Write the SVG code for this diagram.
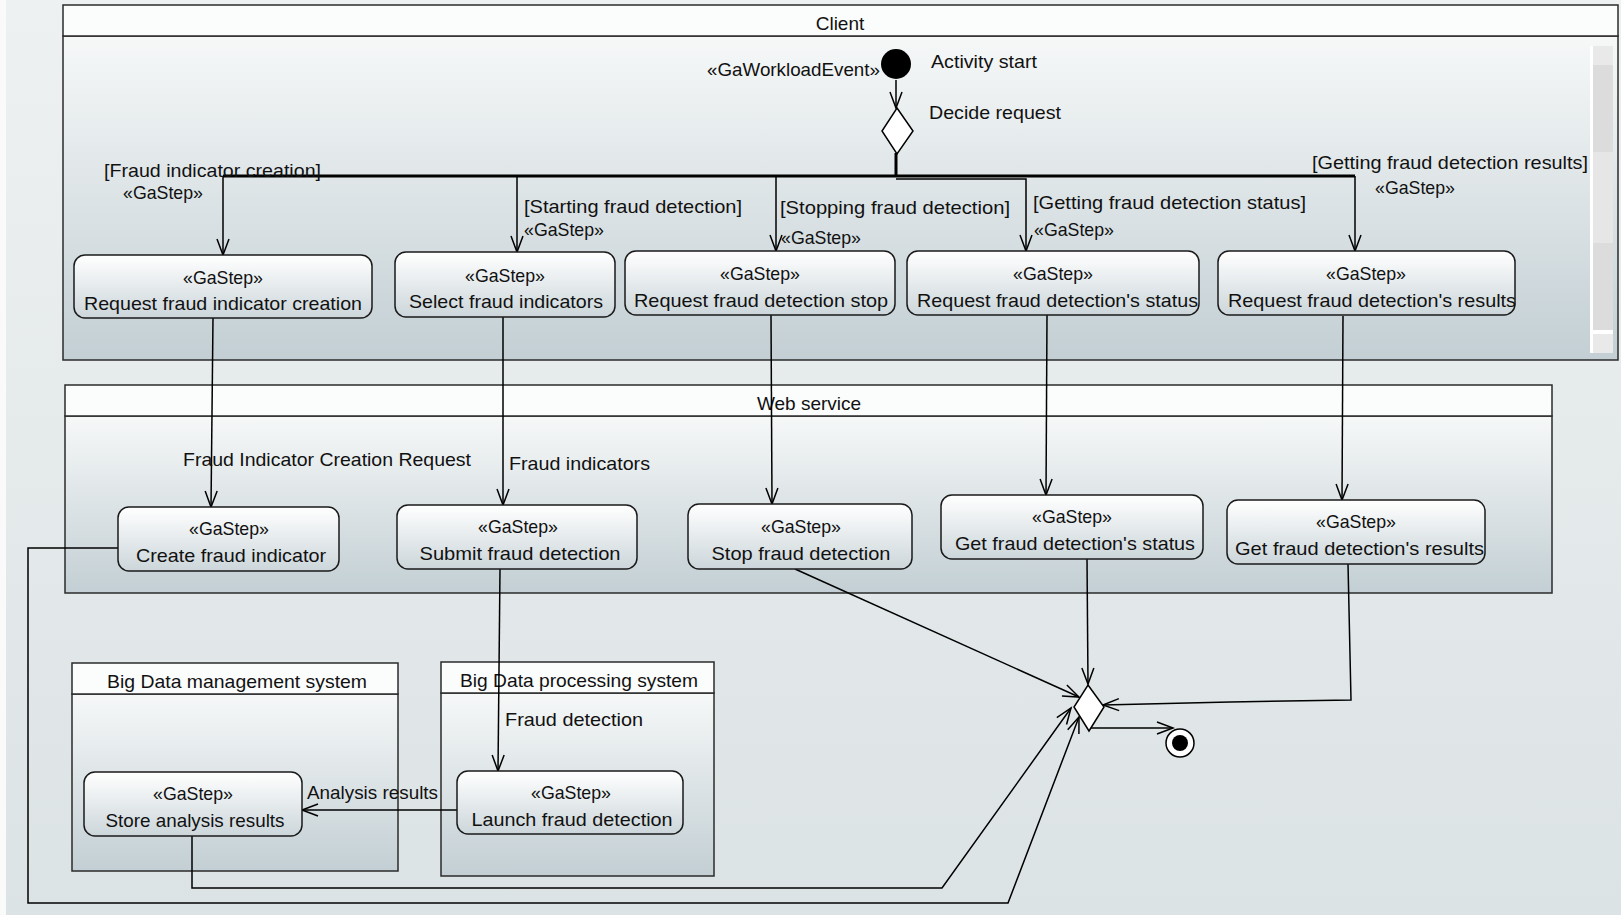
<svg xmlns="http://www.w3.org/2000/svg" width="1621" height="915" viewBox="0 0 1621 915">
  <defs>
    <linearGradient id="page" x1="0" y1="0" x2="0" y2="1">
      <stop offset="0" stop-color="#eef1f1"/>
      <stop offset="1" stop-color="#dce3e5"/>
    </linearGradient>
    <linearGradient id="lane" x1="0" y1="0" x2="0" y2="1">
      <stop offset="0" stop-color="#f6f8f8"/>
      <stop offset="1" stop-color="#c3cfd4"/>
    </linearGradient>
    <linearGradient id="act" x1="0" y1="0" x2="0" y2="1">
      <stop offset="0" stop-color="#ffffff"/>
      <stop offset="1" stop-color="#ccd6da"/>
    </linearGradient>
    <marker id="arr" viewBox="0 0 18 14" markerWidth="18" markerHeight="14" refX="16" refY="7" orient="auto" markerUnits="userSpaceOnUse" overflow="visible">
      <path d="M0,1 L16,7 L0,13" fill="none" stroke="#000" stroke-width="1.5"/>
    </marker>
    <style>
      text { font-family: "Liberation Sans", Arial, sans-serif; font-size: 19px; fill: #111; }
      .c { text-anchor: middle; }
      .lane-hdr { fill: #fbfcfc; stroke: #2b2b2b; stroke-width: 1.5; }
      .lane-body { fill: url(#lane); stroke: #2b2b2b; stroke-width: 1.5; }
      .action { fill: url(#act); stroke: #1a1a1a; stroke-width: 1.5; }
      .flow { fill: none; stroke: #000; stroke-width: 1.5; marker-end: url(#arr); }
      .trunk { fill: none; stroke: #000; stroke-width: 3; }
    </style>
  </defs>

  <!-- canvas -->
  <rect x="0" y="0" width="1621" height="915" fill="url(#page)"/>
  <rect x="0" y="0" width="6" height="915" fill="#fafafa"/>

  <!-- partitions -->
  <g id="lane-client">
    <rect class="lane-body" x="63" y="36" width="1555" height="324"/>
    <rect class="lane-hdr" x="63" y="5" width="1555" height="31"/>
    <text class="c" x="840" y="30">Client</text>
    <!-- scroll bar -->
    <rect x="1590" y="46" width="3" height="307" fill="#ffffff"/>
    <rect x="1593" y="46" width="20" height="19" fill="#e9e9e9"/>
    <rect x="1593" y="65" width="20" height="87" fill="#dcdcdc"/>
    <rect x="1593" y="152" width="20" height="91" fill="#e6e6e6"/>
    <rect x="1593" y="243" width="20" height="87" fill="#dcdcdc"/>
    <rect x="1593" y="330" width="20" height="4" fill="#ffffff"/>
    <rect x="1593" y="334" width="20" height="19" fill="#e9e9e9"/>
  </g>
  <g id="lane-web">
    <rect class="lane-body" x="65" y="416" width="1487" height="177"/>
    <rect class="lane-hdr" x="65" y="385" width="1487" height="31"/>
    <text class="c" x="809" y="410">Web service</text>
  </g>
  <g id="lane-bdm">
    <rect class="lane-body" x="72" y="694" width="326" height="177"/>
    <rect class="lane-hdr" x="72" y="663" width="326" height="31"/>
    <text class="c" x="237" y="688" textLength="260" lengthAdjust="spacingAndGlyphs">Big Data management system</text>
  </g>
  <g id="lane-bdp">
    <rect class="lane-body" x="441" y="693" width="273" height="183"/>
    <rect class="lane-hdr" x="441" y="662" width="273" height="31"/>
    <text class="c" x="579" y="687" textLength="238" lengthAdjust="spacingAndGlyphs">Big Data processing system</text>
  </g>

  <!-- connectors -->
  <g id="connectors">
    <path class="flow" d="M896,80 L896,108"/>
    <path class="trunk" d="M896,153 L896,176"/>
    <path class="trunk" d="M896,176 L223,176" stroke-width="2.5"/>
    <path class="trunk" d="M896,176 L1355,176" stroke-width="2"/>
    <path class="flow" d="M223,176 L223,255"/>
    <path class="flow" d="M517,176 L517,252"/>
    <path class="flow" d="M776,176 L776,251"/>
    <path class="flow" d="M896,179 L1026,179 L1026,251"/>
    <path class="flow" d="M1355,176 L1355,251"/>

    <path class="flow" d="M213,318 L211,507"/>
    <path class="flow" d="M503,317 L503,505"/>
    <path class="flow" d="M771,315 L772,504"/>
    <path class="flow" d="M1047,315 L1046,495"/>
    <path class="flow" d="M1343,316 L1342,500"/>

    <path class="flow" d="M500,569 L498,771"/>
    <path class="flow" d="M457,810 L302,810"/>

    <path class="flow" d="M795,569 L1079,697"/>
    <path class="flow" d="M1087,559 L1088,684"/>
    <path class="flow" d="M1348,564 L1351,700 L1230,702 L1103,705"/>
    <path class="flow" d="M192,836 L192,888 L942,888 L1071,708"/>
    <path class="flow" d="M118,548 L28,548 L28,903 L1008,903 L1079,717"/>
    <path class="flow" d="M1090,728 L1173,728"/>
  </g>

  <!-- guard and object-flow labels -->
  <g id="labels">
    <text x="104" y="177" textLength="217" lengthAdjust="spacingAndGlyphs">[Fraud indicator creation]</text>
    <text x="123" y="199" textLength="80" lengthAdjust="spacingAndGlyphs">«GaStep»</text>
    <text x="524" y="213" textLength="218" lengthAdjust="spacingAndGlyphs">[Starting fraud detection]</text>
    <text x="524" y="236" textLength="80" lengthAdjust="spacingAndGlyphs">«GaStep»</text>
    <text x="780" y="214" textLength="230" lengthAdjust="spacingAndGlyphs">[Stopping fraud detection]</text>
    <text x="781" y="244" textLength="80" lengthAdjust="spacingAndGlyphs">«GaStep»</text>
    <text x="1033" y="209" textLength="273" lengthAdjust="spacingAndGlyphs">[Getting fraud detection status]</text>
    <text x="1034" y="236" textLength="80" lengthAdjust="spacingAndGlyphs">«GaStep»</text>
    <text x="1312" y="169" textLength="276" lengthAdjust="spacingAndGlyphs">[Getting fraud detection results]</text>
    <text x="1375" y="194" textLength="80" lengthAdjust="spacingAndGlyphs">«GaStep»</text>
    <text x="183" y="466" textLength="288" lengthAdjust="spacingAndGlyphs">Fraud Indicator Creation Request</text>
    <text x="509" y="470" textLength="141" lengthAdjust="spacingAndGlyphs">Fraud indicators</text>
    <text x="505" y="726" textLength="138" lengthAdjust="spacingAndGlyphs">Fraud detection</text>
    <text x="307" y="799" textLength="131" lengthAdjust="spacingAndGlyphs">Analysis results</text>
  </g>

  <!-- control nodes -->
  <g id="initial">
    <circle cx="896" cy="64" r="15" fill="#000"/>
    <text x="880" y="76" text-anchor="end" textLength="173" lengthAdjust="spacingAndGlyphs">«GaWorkloadEvent»</text>
    <text x="931" y="68" textLength="106" lengthAdjust="spacingAndGlyphs">Activity start</text>
  </g>
  <g id="decision">
    <path d="M897,108 L913,131 L897,154 L882,131 Z" fill="#fff" stroke="#000" stroke-width="1.5"/>
    <text x="929" y="119" textLength="132" lengthAdjust="spacingAndGlyphs">Decide request</text>
  </g>
  <g id="merge">
    <path d="M1088,685 L1104,707 L1089,731 L1074,707 Z" fill="#fff" stroke="#000" stroke-width="1.5"/>
  </g>
  <g id="final">
    <circle cx="1180" cy="743" r="14" fill="#fff" stroke="#000" stroke-width="1.5"/>
    <circle cx="1180" cy="743" r="8" fill="#000"/>
  </g>

  <!-- client actions -->
  <g id="req-indicator">
    <rect class="action" x="74" y="255" width="298" height="63" rx="11"/>
    <text class="c" x="223" y="284" textLength="80" lengthAdjust="spacingAndGlyphs">«GaStep»</text>
    <text class="c" x="223" y="310" textLength="278" lengthAdjust="spacingAndGlyphs">Request fraud indicator creation</text>
  </g>
  <g id="select-indicators">
    <rect class="action" x="395" y="252" width="220" height="65" rx="11"/>
    <text class="c" x="505" y="282" textLength="80" lengthAdjust="spacingAndGlyphs">«GaStep»</text>
    <text class="c" x="506" y="308" textLength="194" lengthAdjust="spacingAndGlyphs">Select fraud indicators</text>
  </g>
  <g id="req-stop">
    <rect class="action" x="625" y="251" width="270" height="64" rx="11"/>
    <text class="c" x="760" y="280" textLength="80" lengthAdjust="spacingAndGlyphs">«GaStep»</text>
    <text class="c" x="761" y="307" textLength="254" lengthAdjust="spacingAndGlyphs">Request fraud detection stop</text>
  </g>
  <g id="req-status">
    <rect class="action" x="907" y="251" width="292" height="64" rx="11"/>
    <text class="c" x="1053" y="280" textLength="80" lengthAdjust="spacingAndGlyphs">«GaStep»</text>
    <text x="917" y="307" textLength="281" lengthAdjust="spacingAndGlyphs">Request fraud detection's status</text>
  </g>
  <g id="req-results">
    <rect class="action" x="1218" y="251" width="297" height="64" rx="11"/>
    <text class="c" x="1366" y="280" textLength="80" lengthAdjust="spacingAndGlyphs">«GaStep»</text>
    <text x="1228" y="307" textLength="288" lengthAdjust="spacingAndGlyphs">Request fraud detection's results</text>
  </g>

  <!-- web service actions -->
  <g id="create-indicator">
    <rect class="action" x="118" y="507" width="221" height="64" rx="11"/>
    <text class="c" x="229" y="535" textLength="80" lengthAdjust="spacingAndGlyphs">«GaStep»</text>
    <text class="c" x="231" y="562" textLength="190" lengthAdjust="spacingAndGlyphs">Create fraud indicator</text>
  </g>
  <g id="submit-detection">
    <rect class="action" x="397" y="505" width="240" height="64" rx="11"/>
    <text class="c" x="518" y="533" textLength="80" lengthAdjust="spacingAndGlyphs">«GaStep»</text>
    <text class="c" x="520" y="560" textLength="201" lengthAdjust="spacingAndGlyphs">Submit fraud detection</text>
  </g>
  <g id="stop-detection">
    <rect class="action" x="688" y="504" width="224" height="65" rx="11"/>
    <text class="c" x="801" y="533" textLength="80" lengthAdjust="spacingAndGlyphs">«GaStep»</text>
    <text class="c" x="801" y="560" textLength="179" lengthAdjust="spacingAndGlyphs">Stop fraud detection</text>
  </g>
  <g id="get-status">
    <rect class="action" x="941" y="495" width="262" height="64" rx="11"/>
    <text class="c" x="1072" y="523" textLength="80" lengthAdjust="spacingAndGlyphs">«GaStep»</text>
    <text x="955" y="550" textLength="240" lengthAdjust="spacingAndGlyphs">Get fraud detection's status</text>
  </g>
  <g id="get-results">
    <rect class="action" x="1227" y="500" width="258" height="64" rx="11"/>
    <text class="c" x="1356" y="528" textLength="80" lengthAdjust="spacingAndGlyphs">«GaStep»</text>
    <text x="1235" y="555" textLength="249" lengthAdjust="spacingAndGlyphs">Get fraud detection's results</text>
  </g>

  <!-- big data actions -->
  <g id="store-results">
    <rect class="action" x="84" y="772" width="218" height="64" rx="11"/>
    <text class="c" x="193" y="800" textLength="80" lengthAdjust="spacingAndGlyphs">«GaStep»</text>
    <text class="c" x="195" y="827" textLength="179" lengthAdjust="spacingAndGlyphs">Store analysis results</text>
  </g>
  <g id="launch-detection">
    <rect class="action" x="457" y="771" width="226" height="63" rx="11"/>
    <text class="c" x="571" y="799" textLength="80" lengthAdjust="spacingAndGlyphs">«GaStep»</text>
    <text class="c" x="572" y="826" textLength="201" lengthAdjust="spacingAndGlyphs">Launch fraud detection</text>
  </g>
</svg>
